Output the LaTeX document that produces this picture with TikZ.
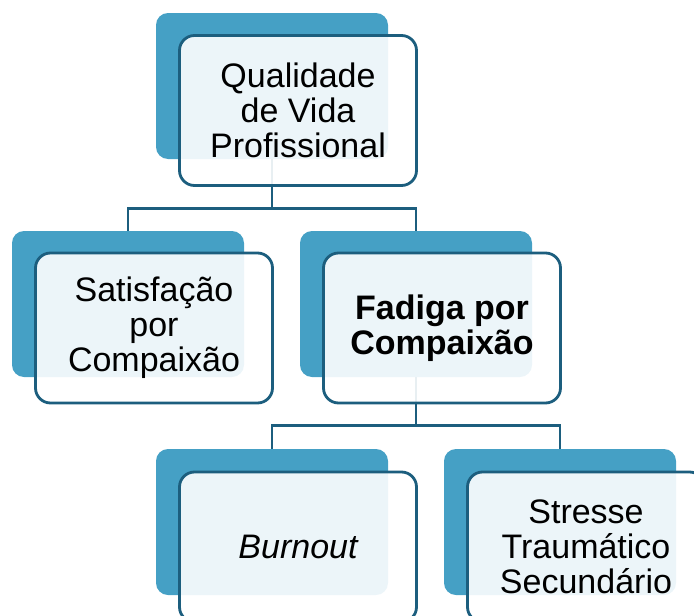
\documentclass[tikz,border=0pt]{standalone}
\usepackage{fontspec}
\setmainfont{Liberation Sans}
\definecolor{backblue}{RGB}{69,160,197}
\definecolor{edgeteal}{RGB}{28,94,126}
\tikzset{
  backbox/.style={rectangle, rounded corners=12pt, fill=backblue, minimum width=232pt, minimum height=146pt, inner sep=0pt},
  frontbox/.style={rectangle, rounded corners=15pt, draw=edgeteal, line width=2.8pt, fill=white, fill opacity=0.9, text opacity=1, minimum width=237pt, minimum height=150pt, inner sep=0pt, align=center, font=\fontsize{34}{35}\selectfont},
  link/.style={draw=edgeteal, line width=2.8pt}
}
\begin{document}
\begin{tikzpicture}[x=1pt,y=-1pt]
\useasboundingbox (0,0) rectangle (694,616);
\clip (0,0) rectangle (694,616);
% back boxes
\node[backbox] (A) at (272,86) {};
\node[backbox] (B) at (128,304) {};
\node[backbox] (C) at (416,304) {};
\node[backbox] (D) at (272,522) {};
\node[backbox] (E) at (560,522) {};
% connectors
\draw[link] (A.south) -- ++(0,49) -| (B.north);
\draw[link] (A.south) -- ++(0,49) -| (C.north);
\draw[link] (C.south) -- ++(0,48) -| (D.north);
\draw[link] (C.south) -- ++(0,48) -| (E.north);
% front boxes
\node[frontbox] (Af) at (298,110.5) {Qualidade\\de Vida\\Profissional};
\node[frontbox] (Bf) at (154,328) {Satisfação\\por\\Compaixão};
\node[frontbox] (Cf) at (442,328) {\bfseries Fadiga por\\\bfseries Compaixão};
\node[frontbox] (Df) at (298,547) {\itshape Burnout};
\node[frontbox] (Ef) at (586,547) {Stresse\\Traumático\\Secundário};
\end{tikzpicture}
\end{document}
